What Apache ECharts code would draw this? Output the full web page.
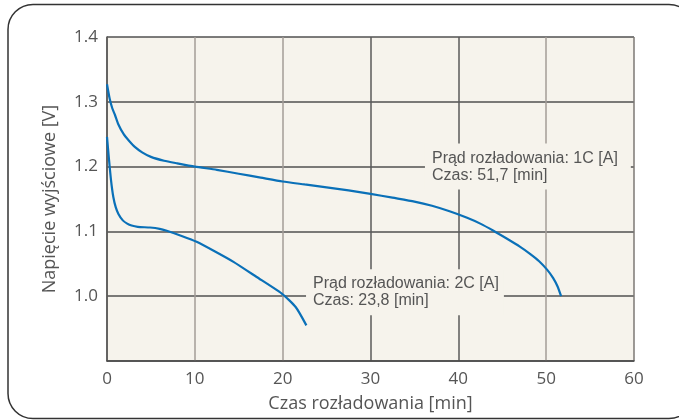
<!DOCTYPE html>
<html>
<head>
<meta charset="utf-8">
<script src="https://cdn.jsdelivr.net/npm/echarts@6/dist/echarts.min.js"></script>
<style>
  html, body { margin: 0; padding: 0; background: #fff; }
  #main { width: 679px; height: 420px; }
</style>
</head>
<body>
<div id="main"></div>
<script>
// rozładowanie 1C
const time1 = [0, 0.3, 0.6, 0.9, 1.3, 1.9, 2.5, 3.2, 4.0, 5.0, 6.5, 8.0, 10, 12.5, 15, 17.5, 20, 22.5, 25, 27.5, 30, 32.5, 35, 37, 39, 41, 42.5, 44, 45.5, 47, 48.2, 49.2, 50.1, 50.8, 51.3, 51.7]
const volt1 = [1.327, 1.305, 1.29, 1.28, 1.265, 1.25, 1.24, 1.23, 1.222, 1.215, 1.209, 1.205, 1.2, 1.195, 1.189, 1.183, 1.177, 1.1725, 1.168, 1.1633, 1.158, 1.152, 1.146, 1.1395, 1.131, 1.121, 1.112, 1.101, 1.089, 1.0765, 1.065, 1.054, 1.041, 1.028, 1.015, 1.0]
// rozładowanie 2C
const time2 = [0, 0.2, 0.45, 0.72, 1.0, 1.3, 1.8, 2.3, 2.8, 3.5, 4.9, 6.0, 6.8, 8.5, 10.2, 12.3, 14.4, 17.0, 19.9, 21.5, 22.7]
const volt2 = [1.246, 1.215, 1.18, 1.153, 1.137, 1.127, 1.117, 1.112, 1.109, 1.107, 1.106, 1.104, 1.101, 1.093, 1.084, 1.069, 1.053, 1.03, 1.004, 0.983, 0.955]

const xTicks = [0, 10, 20, 30, 40, 50, 60]
const yTicks = [0.9, 1.0, 1.1, 1.2, 1.3, 1.4]

const label1 = ['Prąd rozładowania: 1C [A]', 'Czas: 51,7 [min]']
const label2 = ['Prąd rozładowania: 2C [A]', 'Czas: 23,8 [min]']
const label1At = [36.2, 1.2]
const label2At = [22.66, 1.006]

const zip = (xs, ys) => xs.map((x, i) => [x, ys[i]])

const chart = echarts.init(document.getElementById('main'))

const axisFont = { fontFamily: 'Open Sans', fontSize: 17, color: '#555' }
const nameFont = { fontFamily: 'Open Sans', fontSize: 18, color: '#555' }
const boxLabel = {
  show: true,
  position: [0, 0],
  align: 'left',
  verticalAlign: 'middle',
  fontFamily: 'Liberation Sans',
  fontSize: 16,
  lineHeight: 17,
  color: '#555',
  backgroundColor: '#f6f3ec'
}

function note (at, lines, padding) {
  return {
    symbol: 'circle',
    symbolSize: 0,
    silent: true,
    data: [{ coord: at, label: Object.assign({}, boxLabel, { formatter: lines.join('\n'), padding: padding }) }]
  }
}

const option = {
  animation: false,
  graphic: [{
    type: 'rect',
    shape: { x: 8, y: 4.5, width: 686, height: 414, r: 25 },
    style: { fill: 'none', stroke: '#333', lineWidth: 1.5 },
    silent: true
  }],
  grid: {
    left: 107,
    top: 37,
    right: 45,
    bottom: 59,
    show: true,
    backgroundColor: '#f6f3ec',
    borderWidth: 0
  },
  xAxis: {
    type: 'value',
    min: xTicks[0],
    max: xTicks[xTicks.length - 1],
    interval: 10,
    name: 'Czas rozładowania [min]',
    nameLocation: 'middle',
    nameGap: 34,
    nameTextStyle: nameFont,
    axisLine: { lineStyle: { color: '#4a4a4a', width: 1.5 } },
    axisTick: { show: false },
    axisLabel: Object.assign({ margin: 10 }, axisFont),
    splitLine: {
      show: true,
      lineStyle: { color: ['#a39d97', '#a39d97', '#a39d97', '#5a5a5a', '#5a5a5a', '#a39d97', '#7d7975'], width: 1.5 }
    }
  },
  yAxis: {
    type: 'value',
    min: yTicks[0],
    max: yTicks[yTicks.length - 1],
    interval: 0.1,
    name: 'Napięcie wyjściowe [V]',
    nameLocation: 'middle',
    nameGap: 48,
    nameTextStyle: nameFont,
    axisLine: { show: true, lineStyle: { color: '#4a4a4a', width: 1.5 } },
    axisTick: { show: false },
    axisLabel: Object.assign({
      margin: 9,
      formatter: v => (v < 0.95 ? '' : v.toFixed(1))
    }, axisFont),
    splitLine: { show: true, lineStyle: { color: '#505050', width: 1.5 } }
  },
  series: [
    {
      type: 'line',
      data: zip(time1, volt1),
      smooth: 0.2,
      showSymbol: false,
      lineStyle: { color: '#0a70b8', width: 2.2 },
      markPoint: note(label1At, label1, [6, 13, 6, 7]),
      z: 3
    },
    {
      type: 'line',
      data: zip(time2, volt2),
      smooth: 0.2,
      showSymbol: false,
      lineStyle: { color: '#0a70b8', width: 2.2 },
      markPoint: note(label2At, label2, [6, 5, 6, 7]),
      z: 3
    }
  ]
}
option && chart.setOption(option)
</script>
</body>
</html>
